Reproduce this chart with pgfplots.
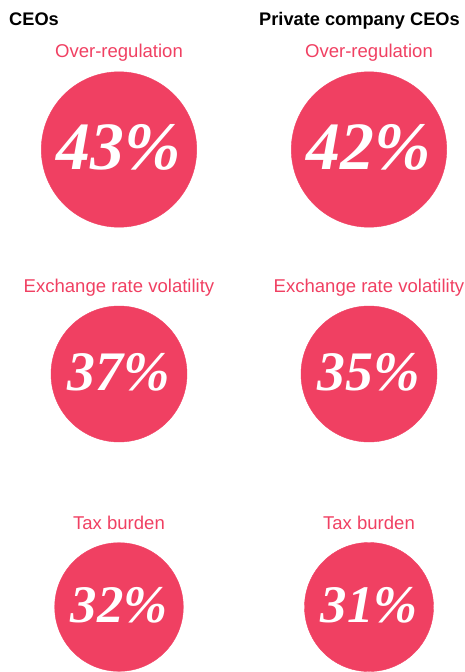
\documentclass[border=0pt]{standalone}
\usepackage{pgfplots}
\pgfplotsset{compat=1.18}
\usepackage{pgfplotstable}
\usepackage{fontspec}
\setmainfont{Liberation Sans}
\newfontfamily\numfont{Liberation Serif}
\definecolor{ceored}{RGB}{240,64,98}
\pgfplotstableread{
x y r fs v
119 149.5 77.7 68 43
369 149.5 77.7 68 42
119 374 68 56 37
369 374 68 56 35
119 607 64.3 53 32
369 607 64.5 53 31
}\circles
\begin{document}
\begin{tikzpicture}
\useasboundingbox (0,0) rectangle (465bp,672bp);
\begin{axis}[
  at={(0,0)}, anchor=south west,
  width=465bp, height=672bp, scale only axis,
  xmin=0, xmax=465, ymin=0, ymax=672, y dir=reverse,
  hide axis, clip=false]
\addplot[only marks, scatter, mark=*,
  visualization depends on={\thisrow{r}\as\rad},
  scatter/use mapped color={draw=ceored, fill=ceored},
  scatter/@pre marker code/.append style={/tikz/mark size=\rad bp}]
  table[x=x, y=y]{\circles};
\addplot[draw=none, mark=none,
  point meta=explicit symbolic,
  visualization depends on={\thisrow{fs}\as\fsz},
  nodes near coords={\pgfplotspointmeta\%},
  nodes near coords style={anchor=center, yshift=2bp, text=white, inner sep=0pt,
    font=\numfont\bfseries\itshape\fontsize{\fsz}{\fsz}\selectfont}]
  table[x=x, y=y, meta=v]{\circles};
\begin{scope}[every node/.style={inner sep=0pt}]
\node[anchor=base west, font=\bfseries\fontsize{18.3}{20}\selectfont] at (axis cs:9,25.8) {CEOs};
\node[anchor=base west, font=\bfseries\fontsize{18.3}{20}\selectfont] at (axis cs:259,25.8) {Private company CEOs};
\node[anchor=base, text=ceored, font=\fontsize{18.6}{20}\selectfont] at (axis cs:119,57.5) {Over-regulation};
\node[anchor=base, text=ceored, font=\fontsize{18.6}{20}\selectfont] at (axis cs:369,57.5) {Over-regulation};
\node[anchor=base, text=ceored, font=\fontsize{18.6}{20}\selectfont] at (axis cs:119,292.5) {Exchange rate volatility};
\node[anchor=base, text=ceored, font=\fontsize{18.6}{20}\selectfont] at (axis cs:369,292.5) {Exchange rate volatility};
\node[anchor=base, text=ceored, font=\fontsize{18.6}{20}\selectfont] at (axis cs:119,529.3) {Tax burden};
\node[anchor=base, text=ceored, font=\fontsize{18.6}{20}\selectfont] at (axis cs:369,529.3) {Tax burden};
\end{scope}
\end{axis}
\end{tikzpicture}
\end{document}
